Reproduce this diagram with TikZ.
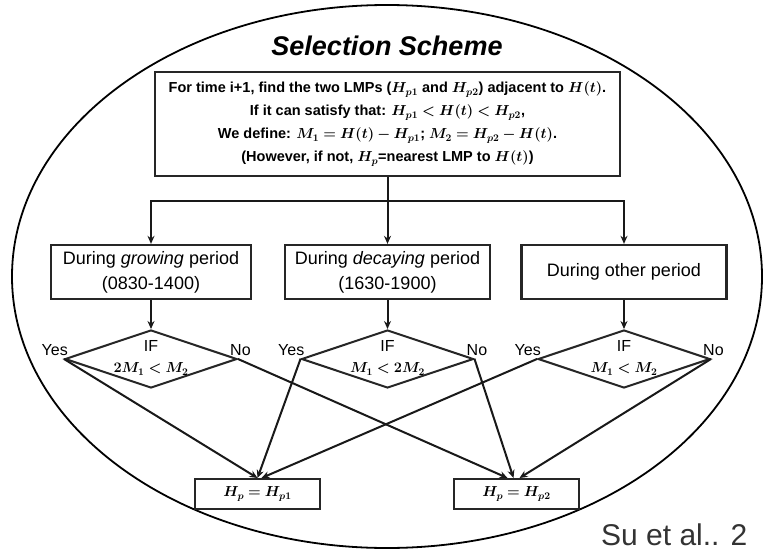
\documentclass[tikz,border=0pt]{standalone}
\usepackage{fix-cm}
\usepackage[no-math]{fontspec}
\setmainfont{Liberation Sans}
\usepackage{bm}
\usetikzlibrary{shapes.geometric,arrows.meta}
\begin{document}
\begin{tikzpicture}[x=1pt,y=-1pt,
  boxst/.style={draw=black!85, line width=2.3pt, rectangle, inner sep=0pt},
  dia/.style={draw=black!85, line width=2pt, diamond, minimum width=172pt, minimum height=58pt, inner sep=0pt},
  conn/.style={line width=2pt, black!90},
  arr/.style={conn, -{Stealth[length=8pt,width=7pt]}},
  lbl/.style={inner sep=0pt, font=\fontsize{16}{16}\selectfont},
  mth/.style={inner sep=0pt, font=\fontsize{14.5}{14.5}\selectfont},
  rowtxt/.style={align=center, font=\fontsize{18}{25}\selectfont},
]
\useasboundingbox[fill=white] (0,0) rectangle (763,551);
\draw[line width=1.8pt] (387,276.5) ellipse [x radius=375pt, y radius=271.5pt];

\node[inner sep=0pt, font=\fontsize{27}{27}\selectfont\bfseries\itshape] (title) at (387,46) {Selection Scheme};

\node[boxst, minimum width=465pt, minimum height=104pt, align=center,
      font=\fontsize{14.5}{23}\selectfont\bfseries] (top) at (387.5,124)
 {For time i+1, find the two LMPs ($\bm{H_{p1}}$ and $\bm{H_{p2}}$) adjacent to $\bm{H(t)}$.\\
  If it can satisfy that: $\bm{H_{p1} < H(t) < H_{p2}}$,\\
  We define: $\bm{M_1 = H(t) - H_{p1}}$; $\bm{M_2 = H_{p2} - H(t)}$.\\
  (However, if not, $\bm{H_p}$=nearest LMP to $\bm{H(t)}$)};

\node[boxst, minimum width=200pt, minimum height=54pt, rowtxt] (b1) at (151,272) {During \textit{growing} period\\(0830-1400)};
\node[boxst, minimum width=205pt, minimum height=54pt, rowtxt] (b2) at (387.5,272) {During \textit{decaying} period\\(1630-1900)};
\node[boxst, minimum width=205pt, minimum height=54pt, rowtxt] (b3) at (624,272) {During other period};

\coordinate (j) at (387.5,201);
\draw[arr] (top.south) -- (b2.north);
\draw[arr] (j) -| (b1.north);
\draw[arr] (j) -| (b3.north);

\node[dia] (d1) at (151,359) {};
\node[dia] (d2) at (387.5,359) {};
\node[dia] (d3) at (624,359) {};

\draw[arr] (b1.south) -- (d1.north);
\draw[arr] (b2.south) -- (d2.north);
\draw[arr] (b3.south) -- (d3.north);

\node[lbl] (if1) at (151,346) {IF};
\node[lbl] (if2) at (387.5,346) {IF};
\node[lbl] (if3) at (624,346) {IF};
\node[mth] (c1) at (151,369) {$\bm{2M_1 < M_2}$};
\node[mth] (c2) at (387.5,369) {$\bm{M_1 < 2M_2}$};
\node[mth] (c3) at (624,369) {$\bm{M_1 < M_2}$};

\node[lbl, anchor=base east] (y1) at ([shift={(4pt,4pt)}]d1.west) {Yes};
\node[lbl, anchor=base west] (n1) at ([shift={(-8pt,4pt)}]d1.east) {No};
\node[lbl, anchor=base east] (y2) at ([shift={(4pt,4pt)}]d2.west) {Yes};
\node[lbl, anchor=base west] (n2) at ([shift={(-8pt,4pt)}]d2.east) {No};
\node[lbl, anchor=base east] (y3) at ([shift={(4pt,4pt)}]d3.west) {Yes};
\node[lbl, anchor=base west] (n3) at ([shift={(-8pt,4pt)}]d3.east) {No};

\node[boxst, line width=2pt, minimum width=125pt, minimum height=30pt, font=\fontsize{14.5}{14.5}\selectfont] (p1) at (257.5,494) {$\bm{H_p = H_{p1}}$};
\node[boxst, line width=2pt, minimum width=125pt, minimum height=30pt, font=\fontsize{14.5}{14.5}\selectfont] (p2) at (516.5,494) {$\bm{H_p = H_{p2}}$};

\draw[arr] (d1.west) -- (p1.north);
\draw[arr] (d2.west) -- (p1.north);
\draw[arr] (d3.west) -- ([xshift=4pt]p1.north);
\draw[arr] (d1.east) -- ([xshift=-9pt]p2.north);
\draw[arr] (d2.east) -- ([xshift=-3pt]p2.north);
\draw[arr] (d3.east) -- ([xshift=3pt]p2.north);

\node[inner sep=0pt, anchor=base west, font=\fontsize{30}{30}\selectfont, text=black!80] (cite) at (601,545) {Su et al.. 2};
\end{tikzpicture}
\end{document}
